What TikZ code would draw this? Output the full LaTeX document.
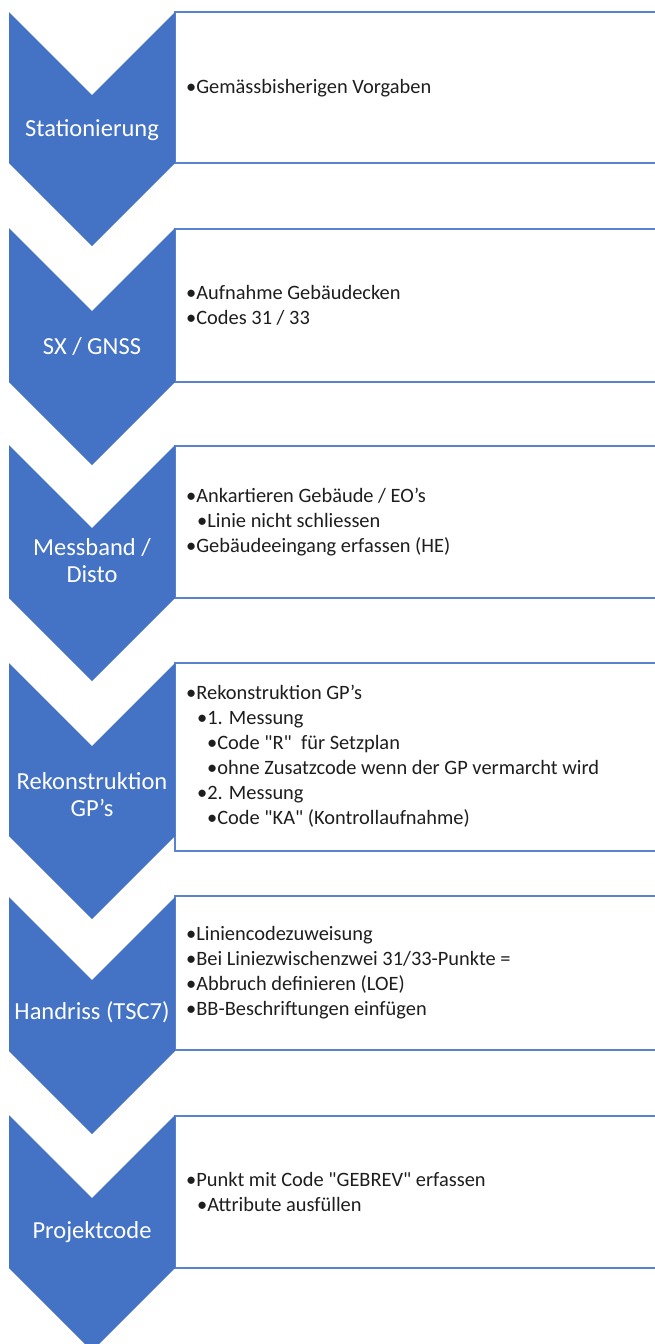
\documentclass[tikz,border=0pt]{standalone}
\usepackage{fontspec}
\setmainfont{Carlito}[Ligatures=TeXOff]
\definecolor{chev}{HTML}{4472C4}
\definecolor{boxline}{HTML}{5B82CC}
\definecolor{txt}{HTML}{1E1E1E}
\begin{document}
\begin{tikzpicture}[x=1pt,y=-1pt,
  chevron/.style={fill=chev,draw=none},
  infobox/.style={draw=boxline,line width=1.5pt,fill=white},
  chevlabel/.style={text=white,font=\fontsize{24.5}{27}\selectfont,align=center,inner sep=0pt},
  boxtext/.style={text=txt,font=\fontsize{20.4}{25}\selectfont,align=left,anchor=west,inner sep=0pt}]
\useasboundingbox[fill=white] (0,0) rectangle (654,1344);
% boxes
\draw[infobox] (175,12) rectangle (662,163);
\draw[infobox] (175,229) rectangle (662,382);
\draw[infobox] (175,446) rectangle (662,598);
\draw[infobox] (175,663) rectangle (662,851);
\draw[infobox] (175,896) rectangle (662,1050);
\draw[infobox] (175,1116) rectangle (662,1268);
% chevrons
\foreach \t/\e in {12/163,228/382,445/598,663/836,897/1051,1115/1268}{
  \fill[chevron] (9,\t) -- (92,\t+83) -- (175,\t) -- (175,\e) -- (92,\e+83) -- (9,\e) -- cycle;
}
% chevron labels
\node[chevlabel] (c1) at (92,130) {Stationierung};
\node[chevlabel] (c2) at (92,347) {SX / GNSS};
\node[chevlabel] (c3) at (92,561) {Messband /\\Disto};
\node[chevlabel] (c4) at (92,795) {Rekonstruktion\\GP’s};
\node[chevlabel] (c5) at (92,1012) {Handriss (TSC7)};
\node[chevlabel] (c6) at (92,1232) {Projektcode};
% box texts
\node[boxtext] (t1) at (186,88) {•Gemässbisherigen Vorgaben};
\node[boxtext] (t2) at (186,305.5) {•Aufnahme Gebäudecken\\•Codes 31 / 33};
\node[boxtext] (t3) at (186,522) {•Ankartieren Gebäude / EO’s\\\hspace{11pt}•Linie nicht schliessen\\•Gebäudeeingang erfassen (HE)};
\node[boxtext] (t4) at (186,756) {•Rekonstruktion GP’s\\\hspace{11pt}•1. Messung\\\hspace{21pt}•Code "R"\ \ für Setzplan\\\hspace{21pt}•ohne Zusatzcode wenn der GP vermarcht wird\\\hspace{11pt}•2. Messung\\\hspace{21pt}•Code "KA" (Kontrollaufnahme)};
\node[boxtext] (t5) at (186,973) {•Liniencodezuweisung\\•Bei Liniezwischenzwei 31/33-Punkte =\\•Abbruch definieren (LOE)\\•BB-Beschriftungen einfügen};
\node[boxtext] (t6) at (186,1192) {•Punkt mit Code "GEBREV" erfassen\\\hspace{11pt}•Attribute ausfüllen};
\end{tikzpicture}
\end{document}
